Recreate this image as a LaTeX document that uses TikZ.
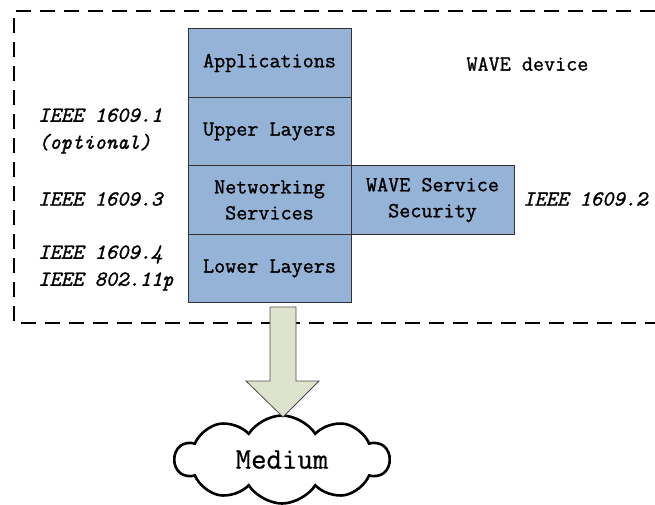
\documentclass[tikz,border=0pt]{standalone}
\usepackage{fontspec}
\setmonofont{Latin Modern Mono}[FakeBold=1.2]
\newfontfamily\plaintt{Latin Modern Mono}[FakeBold=0.6]
\usepackage{tikz}
\usetikzlibrary{positioning,calc,shapes.symbols}
\definecolor{layerblue}{RGB}{149,179,214}
\definecolor{arrowgreen}{RGB}{221,227,204}
\tikzset{
  layer/.style={draw=black!80, fill=layerblue, line width=0.8pt,
    minimum width=163pt, minimum height=68.5pt, inner sep=0pt, outer sep=0pt,
    align=center, font=\fontsize{21.5}{26}\selectfont\ttfamily},
  stdlabel/.style={align=left, inner sep=0pt, anchor=west,
    font=\fontsize{21.5}{27}\selectfont\ttfamily\itshape},
  frame/.style={line width=1.5pt, dash pattern=on 15pt off 9pt},
  bigarrow/.style={draw=black!70, fill=arrowgreen, line width=0.8pt},
}

\begin{document}
\begin{tikzpicture}[x=1pt, y=-1pt]
  \useasboundingbox (0,0) rectangle (655,504);
  % device border, open on the right
  \draw[frame] (655,11) -| (14,323) -- (655,323);
  \node[anchor=west, font=\fontsize{21.5}{26}\selectfont\ttfamily] (dev) at (463,64) {WAVE device};
%
  \node[layer] (app) at (269.5,63) {Applications};
  \node[layer, below=0pt of app] (upper) {Upper Layers};
  \node[layer, below=0pt of upper] (net) {Networking\\Services};
  \node[layer, below=0pt of net] (lower) {Lower Layers};
  \node[layer, right=0pt of net] (sec) {WAVE Service\\Security};
%
  \node[stdlabel] (std1) at (38,131) {IEEE 1609.1\\(optional)};
  \node[stdlabel] (std3) at (38,199) {IEEE 1609.3};
  \node[stdlabel] (std4) at (38,268) {IEEE 1609.4\\IEEE 802.11p};
  \node[stdlabel] (std2) at (523,199) {IEEE 1609.2};
%
  \node[cloud, cloud puffs=10, cloud puff arc=115, aspect=2.4, draw,
    line width=2.6pt, minimum width=214pt, minimum height=88pt,
    font=\fontsize{30}{32}\selectfont\plaintt] (medium) at (282,459.5) {Medium};
  \coordinate (tip) at (283,417);
  \draw[bigarrow] ($(tip)+(-13,-110)$) -- ($(tip)+(13,-110)$) -- ($(tip)+(13,-36)$)
     -- ($(tip)+(36,-36)$) -- (tip) -- ($(tip)+(-37,-36)$) -- ($(tip)+(-13,-36)$) -- cycle;
\end{tikzpicture}
\end{document}
